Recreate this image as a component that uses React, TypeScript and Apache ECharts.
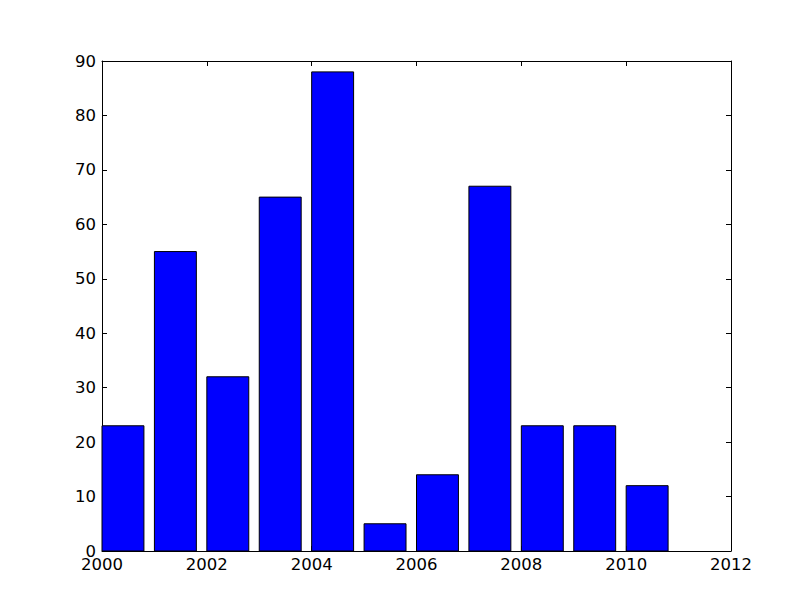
import React, { useEffect, useRef } from "react";
import * as echarts from "echarts";

const years = [2000, 2001, 2002, 2003, 2004, 2005, 2006, 2007, 2008, 2009, 2010];
const values = [23, 55, 32, 65, 88, 5, 14, 67, 23, 23, 12];
const barWidth = 0.8;

export default function App() {
  const ref = useRef<HTMLDivElement>(null);
  useEffect(() => {
    const chart = echarts.init(ref.current!, null, { renderer: "svg" });
    const font = "DejaVu Sans";
    const axisCommon = {
      axisLine: { show: true, onZero: false, lineStyle: { color: "#000", width: 1 } },
      axisTick: { show: true, inside: true, length: 5, lineStyle: { color: "#000", width: 1 } },
      splitLine: { show: false },
    };
    chart.setOption({
      animation: false,
      backgroundColor: "#fff",
      grid: { left: 102, right: 81, top: 61, bottom: 61, containLabel: false },
      xAxis: [
        {
          type: "value", min: 2000, max: 2012, interval: 2, position: "bottom",
          ...axisCommon,
          axisLabel: {
            color: "#000", fontFamily: font, fontSize: 16.5, margin: 5,
            formatter: (v: number) => String(v),
          },
        },
        {
          type: "value", min: 2000, max: 2012, interval: 2, position: "top",
          ...axisCommon,
          axisLabel: { show: false },
        },
      ],
      yAxis: [
        {
          type: "value", min: 0, max: 90, interval: 10, position: "left",
          ...axisCommon,
          axisLabel: { color: "#000", fontFamily: font, fontSize: 16.5, margin: 6 },
        },
        {
          type: "value", min: 0, max: 90, interval: 10, position: "right",
          ...axisCommon,
          axisLabel: { show: false },
        },
      ],
      series: [
        {
          type: "custom",
          xAxisIndex: 0,
          yAxisIndex: 0,
          data: years.map((y, i) => [y, values[i]]),
          renderItem: (params: any, api: any) => {
            const x0 = api.value(0);
            const v = api.value(1);
            const p0 = api.coord([x0, v]);
            const p1 = api.coord([x0 + barWidth, 0]);
            return {
              type: "rect",
              shape: { x: p0[0], y: p0[1], width: p1[0] - p0[0], height: p1[1] - p0[1] },
              style: { fill: "#0000ff", stroke: "#000", lineWidth: 1 },
            };
          },
          z: 1,
        },
      ],
    });
    return () => chart.dispose();
  }, []);
  return (
    <div
      ref={ref}
      style={{ position: "absolute", left: 0, top: 0, width: 812, height: 612 }}
    />
  );
}
